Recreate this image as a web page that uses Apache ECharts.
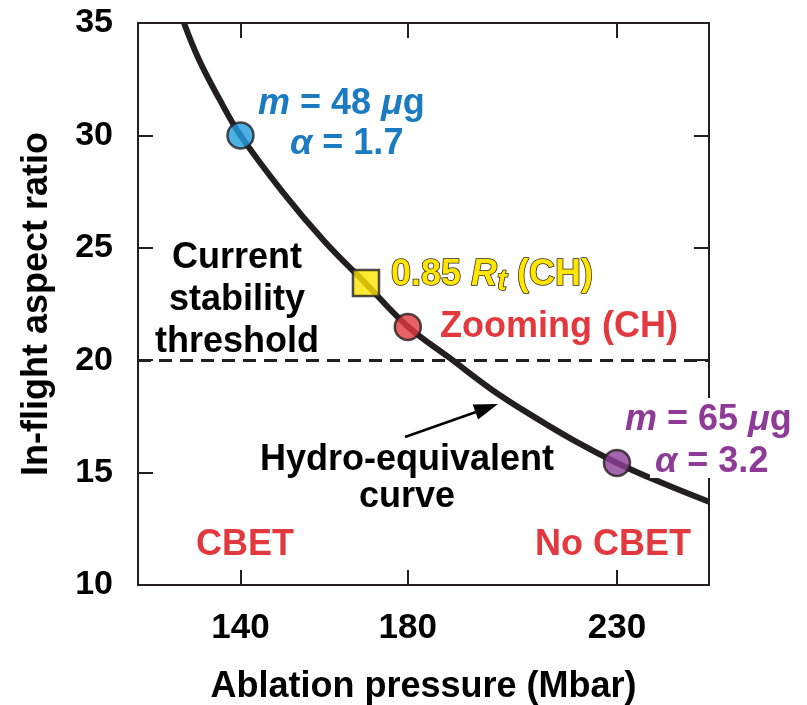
<!DOCTYPE html>
<html>
<head>
<meta charset="utf-8">
<script src="https://cdn.jsdelivr.net/npm/echarts@6/dist/echarts.min.js"></script>
<style>
html,body{margin:0;padding:0;background:#fff;}
#chart{width:807px;height:705px;}
</style>
</head>
<body>
<div id="chart"></div>
<script>
// ---- data ----
const curvePressure = [126.5, 130, 135, 140, 150, 160, 170, 180, 190, 200, 210, 220, 230, 240, 252];
const curveAspect   = [35, 33.4, 31.6, 30, 27.5, 25.3, 23.4, 21.5, 20.1, 18.7, 17.5, 16.4, 15.43, 14.6, 13.7];
const xTicks = [140, 180, 230];
const yRange = [10, 35];
const thresholdAspect = 20;
const pointBlue   = [140, 30];
const pointYellow = [170, 23.43];
const pointRed    = [180, 21.48];
const pointPurple = [230, 15.43];

const INK = '#231f20';
const FONT = '"Liberation Sans", Arial, Helvetica, sans-serif';
const BLUE_T = '#1b7bc2', BLUE_F = '#229ddf';
const RED_T = '#e2393f', RED_F = '#e2393f';
const PURP_T = '#8d3b96', PURP_F = '#8e3f97';
const YEL = '#ffe500';

const chart = echarts.init(document.getElementById('chart'), null, {renderer: 'canvas'});

const curveData = curvePressure.map((p, i) => [p, curveAspect[i]]);
const S = 36;

function txt(text, x, y, color, align) {
  return {
    type: 'text', z: 100,
    style: {
      text: text, x: x, y: y, fill: color,
      fontSize: S, fontWeight: 'bold', fontFamily: FONT,
      align: align || 'center', verticalAlign: 'middle'
    }
  };
}
function richTxt(text, x, y, color, rich, styleExtra) {
  return {
    type: 'text', z: 100,
    style: Object.assign({
      text: text, x: x, y: y, fill: color,
      fontSize: S, fontWeight: 'bold', fontFamily: FONT,
      align: 'left', verticalAlign: 'middle', rich: rich
    }, styleExtra || {})
  };
}
function italicRich(color) {
  return {
    i: {fontStyle: 'italic', fontWeight: 'bold', fontSize: S, fontFamily: FONT, fill: color},
    n: {fontWeight: 'bold', fontSize: S, fontFamily: FONT, fill: color}
  };
}

const option = {
  backgroundColor: '#fff',
  animation: false,
  grid: {left: 138, right: 98, top: 23, bottom: 120, containLabel: false, outerBoundsMode: 'none'},
  xAxis: [{
    type: 'value', min: 115.5, max: 252, position: 'bottom',
    name: 'Ablation pressure (Mbar)', nameLocation: 'middle', nameGap: 84,
    nameTextStyle: {color: '#000', fontSize: 36, fontWeight: 'bold', fontFamily: FONT},
    axisLine: {show: true, lineStyle: {color: INK, width: 2}},
    axisTick: {show: true, inside: true, length: 15, customValues: xTicks, lineStyle: {color: INK, width: 2}},
    axisLabel: {show: true, customValues: xTicks, margin: 26, color: '#000', fontSize: 35, fontWeight: 'bold', fontFamily: FONT},
    splitLine: {show: false}
  }, {
    type: 'value', min: 115.5, max: 252, position: 'top',
    axisLine: {show: true, onZero: false, lineStyle: {color: INK, width: 2}},
    axisTick: {show: true, inside: true, length: 15, customValues: xTicks, lineStyle: {color: INK, width: 2}},
    axisLabel: {show: false},
    splitLine: {show: false}
  }],
  yAxis: [{
    type: 'value', min: yRange[0], max: yRange[1], interval: 5, position: 'left',
    name: 'In-flight aspect ratio', nameLocation: 'middle', nameGap: 83,
    nameTextStyle: {color: '#000', fontSize: 36, fontWeight: 'bold', fontFamily: FONT},
    axisLine: {show: true, lineStyle: {color: INK, width: 2}},
    axisTick: {show: true, inside: true, length: 15, lineStyle: {color: INK, width: 2}},
    axisLabel: {show: true, margin: 25, color: '#000', fontSize: 34, fontWeight: 'bold', fontFamily: FONT},
    splitLine: {show: false}
  }, {
    type: 'value', min: yRange[0], max: yRange[1], interval: 5, position: 'right',
    axisLine: {show: true, onZero: false, lineStyle: {color: INK, width: 2}},
    axisTick: {show: true, inside: true, length: 15, lineStyle: {color: INK, width: 2}},
    axisLabel: {show: false},
    splitLine: {show: false}
  }],
  series: [
    {
      type: 'line', name: 'Hydro-equivalent curve', data: curveData, smooth: 0.4,
      showSymbol: false, symbol: 'none', clip: true,
      lineStyle: {color: INK, width: 6},
      markLine: {
        silent: true, symbol: 'none', label: {show: false},
        lineStyle: {color: INK, width: 3, type: [13, 8]},
        data: [{yAxis: thresholdAspect}]
      },
      z: 3
    },
    {type: 'scatter', data: [pointBlue], symbol: 'circle', symbolSize: 26,
     itemStyle: {color: BLUE_F, borderColor: INK, borderWidth: 2.5}, z: 5},
    {type: 'scatter', data: [pointYellow], symbol: 'rect', symbolSize: 26,
     itemStyle: {color: YEL, borderColor: INK, borderWidth: 2.5}, z: 5},
    {type: 'scatter', data: [pointRed], symbol: 'circle', symbolSize: 26,
     itemStyle: {color: RED_F, borderColor: INK, borderWidth: 2.5}, z: 5},
    {type: 'scatter', data: [pointPurple], symbol: 'circle', symbolSize: 26,
     itemStyle: {color: PURP_F, borderColor: INK, borderWidth: 2.5}, z: 5}
  ],
  graphic: [
    // white knock-outs behind the purple label (hide the right frame there)
    {type: 'rect', z: 90, shape: {x: 622, y: 398, width: 185, height: 42}, style: {fill: '#fff'}},
    {type: 'rect', z: 90, shape: {x: 650, y: 440, width: 157, height: 38}, style: {fill: '#fff'}},
    richTxt('{i|m}{n| = 48 }{i|μ}{n|g}', 258, 104, BLUE_T, italicRich(BLUE_T)),
    richTxt('{i|α}{n| = 1.7}', 290, 144, BLUE_T, italicRich(BLUE_T)),
    richTxt('{i|m}{n| = 65 }{i|μ}{n|g}', 625, 420, PURP_T, italicRich(PURP_T)),
    richTxt('{i|α}{n| = 3.2}', 655, 462, PURP_T, italicRich(PURP_T)),
    richTxt('{n|0.85 }{i|R}{s|t}{n| (CH)}', 391, 275, YEL, {
      n: {fontWeight: 'bold', fontSize: S, fontFamily: FONT, fill: YEL, stroke: INK, lineWidth: 1.5},
      i: {fontStyle: 'italic', fontWeight: 'bold', fontSize: S, fontFamily: FONT, fill: YEL, stroke: INK, lineWidth: 1.5},
      s: {fontStyle: 'italic', fontWeight: 'bold', fontSize: 30, fontFamily: FONT, fill: YEL, stroke: INK, lineWidth: 1.5,
          verticalAlign: 'bottom', padding: [14, 0, 0, 0]}
    }, {stroke: INK, lineWidth: 1.5}),
    txt('Zooming (CH)', 440, 327, RED_T, 'left'),
    txt('Current', 237, 258, '#000'),
    txt('stability', 237, 300, '#000'),
    txt('threshold', 237, 342, '#000'),
    txt('Hydro-equivalent', 407, 460, '#000'),
    txt('curve', 407, 497, '#000'),
    txt('CBET', 245, 545, RED_T),
    txt('No CBET', 613, 545, RED_T),
    // arrow
    {type: 'line', z: 100, shape: {x1: 405, y1: 437, x2: 476, y2: 412}, style: {stroke: '#000', lineWidth: 2.5}},
    {type: 'polygon', z: 100, shape: {points: [[498, 404], [478.1, 419.5], [472.7, 404.5]]}, style: {fill: '#000'}}
  ]
};
chart.setOption(option);
</script>
</body>
</html>
